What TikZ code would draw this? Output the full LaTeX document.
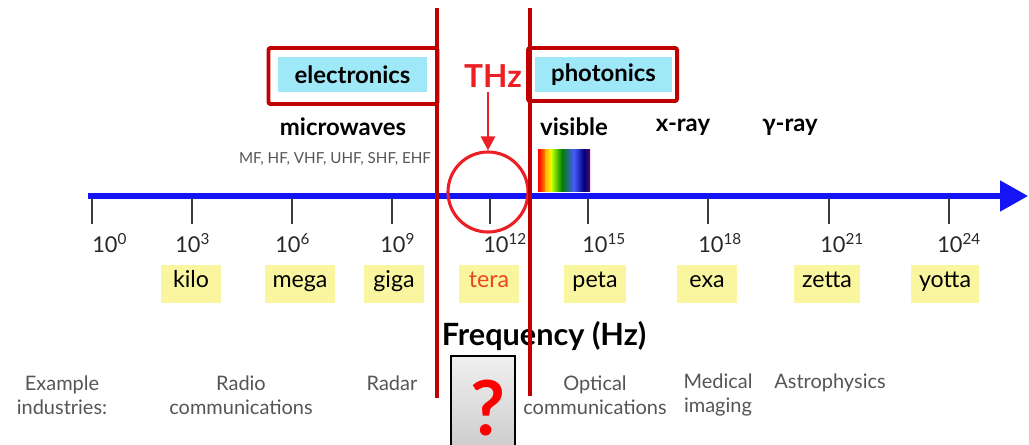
\documentclass[tikz,border=0pt]{standalone}
\usepackage{fontspec}
\setmainfont{Lato}
\usetikzlibrary{arrows,arrows.meta}
\definecolor{darkred}{RGB}{192,0,0}
\definecolor{thzred}{RGB}{236,32,36}
\definecolor{skyfill}{RGB}{158,232,248}
\definecolor{prefixfill}{RGB}{250,246,160}
\definecolor{axisblue}{RGB}{20,20,245}
\definecolor{tickgray}{RGB}{60,60,60}
\definecolor{textgray}{RGB}{85,85,85}
\definecolor{terared}{RGB}{235,70,30}

\begin{document}
\begin{tikzpicture}[x=0.025cm,y=-0.025cm,
  prefix node/.style={fill=prefixfill,minimum height=0.95cm,minimum width=1.5cm,inner xsep=0.2cm,
    text height=0.72em,text depth=0.2em,font=\fontsize{16.5}{18}\selectfont},
  power node/.style={anchor=west,inner sep=0pt,text=black!85,font=\fontsize{15.5}{18}\selectfont},
  band node/.style={font=\bfseries\fontsize{17}{20}\selectfont},
  field node/.style={fill=skyfill,font=\bfseries\fontsize{17}{20}\selectfont},
  frame node/.style={draw=darkred,line width=2.8pt,rounded corners=1.5pt},
  industry node/.style={align=center,text=textgray,font=\fontsize{14.2}{17}\selectfont},
  tick/.style={tickgray,line width=2pt},
  divider/.style={darkred,line width=2.8pt}]
  \useasboundingbox (0,0) rectangle (1029,445);

  % electronics / photonics
  \node[frame node,minimum width=4.225cm,minimum height=1.4cm] (electronics frame) at (353,76) {};
  \node[field node,minimum width=3.725cm,minimum height=0.875cm] (electronics) at (352.5,74.5) {electronics};
  \node[frame node,minimum width=3.725cm,minimum height=1.325cm] (photonics frame) at (602.5,74.5) {};
  \node[field node,minimum width=3.425cm,minimum height=0.875cm] (photonics) at (603.5,74.5) {photonics};

  % bands
  \node[band node] (microwaves) at (343,127) {microwaves};
  \node[text=textgray,font=\fontsize{10.8}{12}\selectfont] (bands) at (335,159) {MF, HF, VHF, UHF, SHF, EHF};
  \node[band node] (visible) at (574,127) {visible};
  \node[band node] (xray) at (683,127) {x-ray};
  \node[band node] (gammaray) at (790,127) {γ-ray};

  % spectrum
  \shade[left color=red,right color=orange] (538,150) rectangle (545,192);
  \shade[left color=orange!60!yellow,right color=yellow] (545,150) rectangle (552,192);
  \shade[left color=yellow!70!green,right color=green!50!black] (552,150) rectangle (562,192);
  \shade[left color=green!50!black,right color={rgb,255:red,70;green,90;blue,255}] (562,150) rectangle (574,192);
  \shade[left color={rgb,255:red,70;green,90;blue,255},right color={rgb,255:red,0;green,0;blue,120}] (574,150) rectangle (584,192);
  \shade[left color={rgb,255:red,0;green,0;blue,120},right color={rgb,255:red,100;green,0;blue,110}] (584,150) rectangle (590,192);

  % axis
  \coordinate (axis start) at (88,196);
  \coordinate (axis end) at (1028,196);
  \draw[axisblue,line width=3.6pt,-{Triangle[length=0.7cm,width=0.75cm]}] (axis start) -- (axis end);
  \draw[tick] (92,198) -- (92,224);
  \draw[tick] (192,198) -- (192,224);
  \draw[tick] (292,198) -- (292,224);
  \draw[tick] (392,198) -- (392,224);
  \draw[tick] (490,198) -- (490,224);
  \draw[tick] (588,198) -- (588,224);
  \draw[tick] (708,198) -- (708,224);
  \draw[tick] (829,198) -- (829,224);
  \draw[tick] (949,198) -- (949,224);

  \node[power node] (p0) at (92,243) {10\textsuperscript{0}};
  \node[power node] (p3) at (175,243) {10\textsuperscript{3}};
  \node[power node] (p6) at (275,243) {10\textsuperscript{6}};
  \node[power node] (p9) at (380,243) {10\textsuperscript{9}};
  \node[power node] (p12) at (483,243) {10\textsuperscript{12}};
  \node[power node] (p15) at (582,243) {10\textsuperscript{15}};
  \node[power node] (p18) at (698,243) {10\textsuperscript{18}};
  \node[power node] (p21) at (820,243) {10\textsuperscript{21}};
  \node[power node] (p24) at (937,243) {10\textsuperscript{24}};

  \node[prefix node] (kilo) at (191,284) {kilo};
  \node[prefix node] (mega) at (300,284) {mega};
  \node[prefix node] (giga) at (394,284) {giga};
  \node[prefix node,text=terared] (tera) at (489,284) {tera};
  \node[prefix node] (peta) at (595,284) {peta};
  \node[prefix node] (exa) at (707,284) {exa};
  \node[prefix node] (zetta) at (827,284) {zetta};
  \node[prefix node] (yotta) at (945,284) {yotta};

  \node[font=\bfseries\fontsize{21.8}{26}\selectfont] (frequency) at (544,336) {Frequency (Hz)};

  % industries
  \node[industry node] (example) at (62,395) {Example\\industries:};
  \node[industry node] (radio) at (241,395) {Radio\\communications};
  \node[industry node] (radar) at (392,383) {Radar};
  \node[industry node] (optical) at (595,395) {Optical\\communications};
  \node[industry node] (medical) at (718,395) {Medical\\imaging};
  \node[industry node] (astro) at (830,383) {Astrophysics};

  % THz gap
  \node[circle,draw=thzred,line width=2.2pt,minimum size=2cm] (ring) at (488,192) {};
  \node[text=thzred,font=\bfseries\fontsize{22.5}{26}\selectfont] (THz) at (493,76) {THz};
  \draw[thzred,line width=2.1pt,-{Triangle[length=0.35cm,width=0.35cm]}] (ring.north |- THz.south) -- (ring.north);
  \node[draw=black,line width=1pt,top color=gray!12,bottom color=gray!40,minimum width=1.6cm,minimum height=2.35cm] (qbox) at (483,403) {};
  \node[inner sep=0pt,text=red,font=\bfseries\fontsize{54}{56}\selectfont] (qmark) at (488,408) {?};

  \draw[divider] (437,8) -- (437,398);
  \draw[divider] (530,8) -- (530,396);
\end{tikzpicture}
\end{document}
